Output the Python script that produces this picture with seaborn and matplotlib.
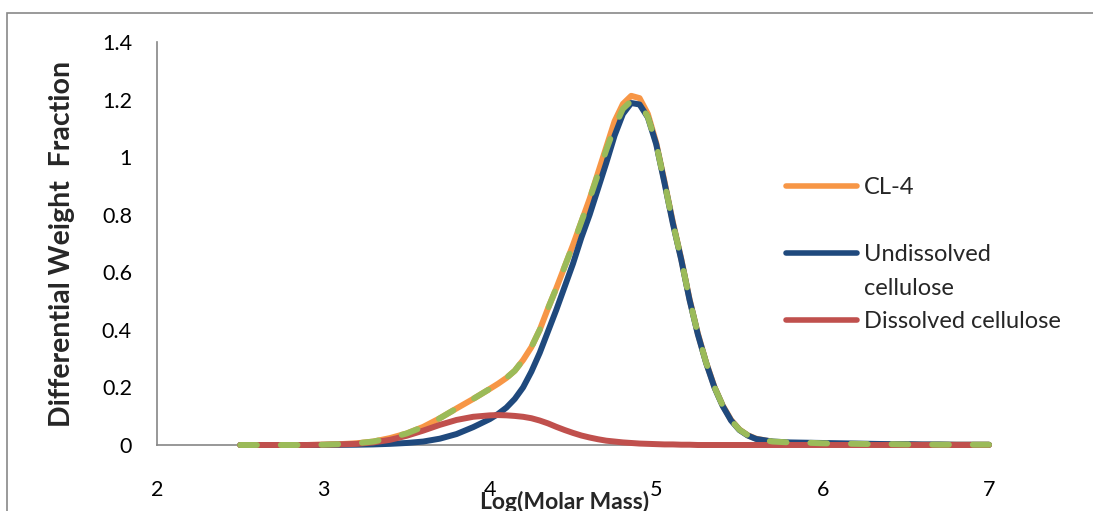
import matplotlib
matplotlib.use("Agg")
import matplotlib.pyplot as plt
import seaborn as sns
import pandas as pd
from matplotlib.patches import Rectangle
from matplotlib.lines import Line2D

# ---------------- data ----------------
log_mass = [2.5, 2.6, 2.7, 2.8, 2.9, 3.0, 3.1, 3.2, 3.3, 3.4, 3.5, 3.6, 3.7, 3.8, 3.9,
            4.0, 4.05, 4.1, 4.15, 4.2, 4.25, 4.3, 4.35, 4.4, 4.45, 4.5, 4.55, 4.6, 4.65,
            4.7, 4.75, 4.8, 4.85, 4.9, 4.95, 5.0, 5.05, 5.1, 5.15, 5.2, 5.25, 5.3, 5.35,
            5.4, 5.45, 5.5, 5.55,
            5.6, 5.7, 5.8, 5.9, 6.0, 6.1, 6.2, 6.3, 6.4, 6.5, 6.6, 6.7, 6.8, 6.9, 7.0]

cl4 = [0, 0, 0, 0, 0, 0.001, 0.003, 0.006, 0.012, 0.024, 0.04, 0.063, 0.093, 0.127, 0.16,
       0.195, 0.213, 0.233, 0.258, 0.295, 0.34, 0.40, 0.475, 0.545, 0.62, 0.695, 0.775,
       0.855, 0.945, 1.035, 1.125, 1.185, 1.213, 1.205, 1.15, 1.05, 0.915, 0.775, 0.648,
       0.508, 0.388, 0.287, 0.202, 0.137, 0.087, 0.054, 0.034,
       0.022, 0.011, 0.007, 0.005, 0.004, 0.003, 0.003, 0.002, 0.002, 0.002, 0.001,
       0.001, 0.001, 0.001, 0.001]

undissolved = [0, 0, 0, 0, 0, 0, 0.0005, 0.001, 0.002, 0.004, 0.007, 0.012, 0.022, 0.038, 0.062,
               0.09, 0.108, 0.13, 0.16, 0.20, 0.255, 0.32, 0.395, 0.47, 0.55, 0.63, 0.72,
               0.80, 0.89, 0.98, 1.075, 1.15, 1.188, 1.183, 1.138, 1.045, 0.91, 0.77, 0.645,
               0.505, 0.385, 0.285, 0.20, 0.135, 0.085, 0.052, 0.033,
               0.021, 0.012, 0.009, 0.008, 0.007, 0.006, 0.005, 0.004, 0.003, 0.003, 0.002,
               0.002, 0.001, 0.001, 0.001]

dissolved = [0, 0, 0, 0, 0, 0.001, 0.002, 0.004, 0.009, 0.018, 0.032, 0.05, 0.07, 0.087, 0.098,
             0.103, 0.104, 0.103, 0.101, 0.098, 0.093, 0.085, 0.075, 0.063, 0.052, 0.042,
             0.033, 0.026, 0.02, 0.015, 0.012, 0.009, 0.007, 0.005, 0.004, 0.003, 0.002,
             0.002, 0.001, 0.001, 0, 0, 0, 0, 0, 0, 0,
             0, 0, 0, 0, 0, 0, 0, 0, 0, 0, 0, 0, 0, 0, 0]

fit = [0, 0, 0, 0, 0, 0.001, 0.003, 0.006, 0.012, 0.024, 0.04, 0.063, 0.093, 0.127, 0.16,
       0.195, 0.213, 0.233, 0.258, 0.295, 0.34, 0.40, 0.475, 0.545, 0.62, 0.695, 0.775,
       0.855, 0.94, 1.025, 1.105, 1.168, 1.195, 1.187, 1.14, 1.046, 0.911, 0.771, 0.646,
       0.506, 0.386, 0.286, 0.201, 0.136, 0.086, 0.053, 0.034,
       0.021, 0.012, 0.009, 0.008, 0.006, 0.005, 0.004, 0.003, 0.003, 0.002, 0.002,
       0.001, 0.001, 0.001, 0.001]

x_ticks = [2, 3, 4, 5, 6, 7]
y_ticks = [0, 0.2, 0.4, 0.6, 0.8, 1, 1.2, 1.4]
y_tick_labels = ["0", "0.2", "0.4", "0.6", "0.8", "1", "1.2", "1.4"]

series_names = ["CL-4", "Undissolved cellulose", "Dissolved cellulose"]
colors = ["#F79646", "#1F497D", "#C0504D"]
fit_color = "#9BBB59"

df = pd.DataFrame({"x": log_mass, "cl4": cl4, "und": undissolved,
                   "dis": dissolved, "fit": fit})

# ---------------- style ----------------
sns.set_style("white")
plt.rcParams["font.family"] = ["Lato", "DejaVu Sans"]

W, H = 1093, 511
fig = plt.figure(figsize=(W / 100, H / 100), dpi=100)
ax = fig.add_axes([157 / W, 1 - 445 / H, (989 - 157) / W, (445 - 42) / H])

lw = 4.3
for col, name, c in zip(["cl4", "und", "dis"], series_names, colors):
    sns.lineplot(data=df, x="x", y=col, ax=ax, color=c, lw=lw, label=name,
                 solid_capstyle="round", solid_joinstyle="round",
                 sort=False, estimator=None, clip_on=False, zorder=3)
sns.lineplot(data=df, x="x", y="fit", ax=ax, color=fit_color, lw=lw,
             legend=False, estimator=None, sort=False, clip_on=False, zorder=3,
             linestyle=(0, (2.8, 4.0)), dash_capstyle="round",
             dash_joinstyle="round")

ax.set_xlim(2, 7)
ax.set_ylim(0, 1.4)
ax.set_xticks(x_ticks)
ax.set_yticks(y_ticks)
ax.set_yticklabels(y_tick_labels)
ax.tick_params(axis="x", length=0, pad=25, labelsize=15.5, colors="black")
ax.tick_params(axis="y", length=0, pad=18, labelsize=15.5, colors="black")

for s in ["top", "right"]:
    ax.spines[s].set_visible(False)
for s in ["left", "bottom"]:
    ax.spines[s].set_color("#868686")
    ax.spines[s].set_linewidth(1.2)
    ax.spines[s].set_zorder(1)
ax.set_xlabel("")
ax.set_ylabel("")

fig.text(62 / W, 1 - 244 / H, "Differential Weight  Fraction", rotation=90,
         ha="center", va="center", fontsize=20.5, fontweight="bold")
fig.text(565 / W, 1 - 509 / H, "Log(Molar Mass)", ha="center", va="baseline",
         fontsize=16.5, fontweight="bold")

# legend: one row per text line, handles on first line of each entry
if ax.get_legend():
    ax.get_legend().remove()
line_handles = ax.get_lines()[:3]
blank = Line2D([], [], color="none")
leg_handles = [line_handles[0], blank, line_handles[1], blank, line_handles[2]]
leg_labels = ["CL-4", "", "Undissolved", "cellulose", "Dissolved cellulose"]
leg = fig.legend(leg_handles, leg_labels, loc="upper left",
                 bbox_to_anchor=(786 / W, 1 - 177 / H), frameon=False,
                 fontsize=17, handlelength=3.0, handletextpad=0.3,
                 labelspacing=0.53, borderpad=0, borderaxespad=0)
for h in leg.get_lines():
    h.set_linewidth(4.0)
    h.set_solid_capstyle("round")

# outer chart frame
fig.patches.append(Rectangle((7 / W, -0.2), 1.2, 1.2 - 13 / H,
                             transform=fig.transFigure, fill=False,
                             edgecolor="#898989", lw=1.2))

fig.savefig("out.png", dpi=100)
